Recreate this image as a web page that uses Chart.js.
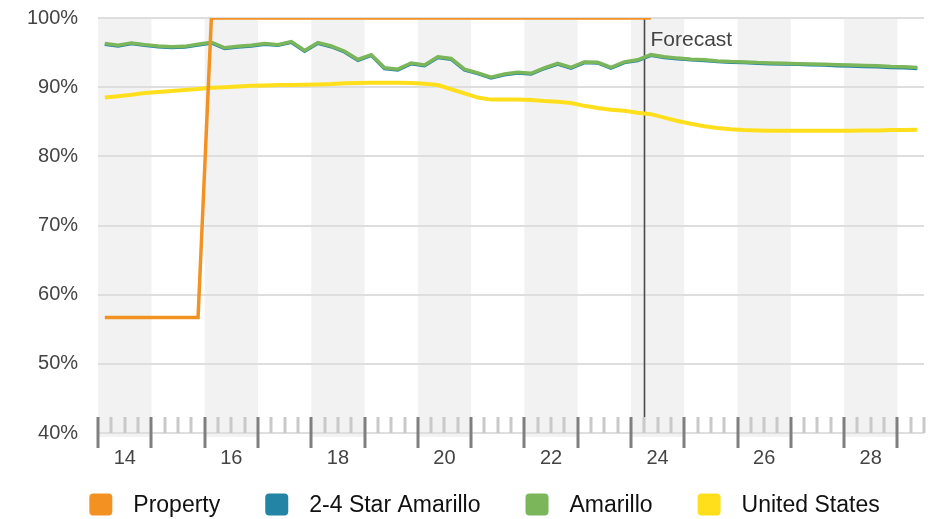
<!DOCTYPE html>
<html>
<head>
<meta charset="utf-8">
<script src="https://cdn.jsdelivr.net/npm/chart.js@4.4.1/dist/chart.umd.min.js"></script>
<style>
  html, body { margin: 0; padding: 0; background: #fff; }
  #wrap { width: 937px; height: 519px; position: relative; }
</style>
</head>
<body>
<div id="wrap"><canvas id="occupancyChart"></canvas></div>
<script>
// quarterly occupancy (%), first point is 2014 Q1, last is 2029 Q2
const firstYear = 2014
const lastYear = 2029.5
const forecastStart = 2024.25

const property = [
  56.7, 56.7, 56.7, 56.7, 56.7, 56.7, 56.7, 56.7,
  100, 100, 100, 100, 100, 100, 100, 100, 100, 100,
  100, 100, 100, 100, 100, 100, 100, 100, 100, 100,
  100, 100, 100, 100, 100, 100, 100, 100, 100, 100,
  100, 100, 100, 100
]
const starAmarillo = [
  96.2, 95.95, 96.3, 96.05, 95.85, 95.75, 95.8, 96.1, 96.4, 95.6,
  95.8, 95.95, 96.2, 96.05, 96.5, 95.2, 96.35, 95.85, 95.1, 93.9,
  94.6, 92.7, 92.5, 93.4, 93.1, 94.3, 94.05, 92.5, 91.95, 91.35,
  91.8, 92.05, 91.9, 92.7, 93.35, 92.75, 93.55, 93.5, 92.75, 93.55,
  93.85, 94.6, 94.3, 94.1, 93.95, 93.85, 93.7, 93.6, 93.55, 93.45,
  93.4, 93.35, 93.3, 93.25, 93.2, 93.1, 93.05, 93.0, 92.95, 92.85,
  92.8, 92.7
]
const amarillo = [
  96.3, 96.05, 96.4, 96.15, 95.95, 95.85, 95.9, 96.2, 96.5, 95.7,
  95.9, 96.05, 96.3, 96.15, 96.6, 95.3, 96.45, 95.95, 95.2, 94.0,
  94.7, 92.8, 92.6, 93.5, 93.2, 94.4, 94.15, 92.6, 92.05, 91.45,
  91.9, 92.15, 92.0, 92.8, 93.45, 92.85, 93.65, 93.6, 92.85, 93.65,
  93.95, 94.7, 94.4, 94.2, 94.05, 93.95, 93.8, 93.7, 93.65, 93.55,
  93.5, 93.45, 93.4, 93.35, 93.3, 93.25, 93.2, 93.15, 93.1, 93.0,
  92.95, 92.85
]
const unitedStates = [
  88.5, 88.7, 88.9, 89.15, 89.3, 89.45, 89.6, 89.75, 89.9, 90.0,
  90.1, 90.2, 90.25, 90.3, 90.3, 90.35, 90.4, 90.45, 90.55, 90.6,
  90.65, 90.65, 90.65, 90.6, 90.5, 90.3, 89.7, 89.1, 88.5, 88.2,
  88.2, 88.2, 88.15, 88.0, 87.9, 87.7, 87.3, 87.0, 86.75, 86.6,
  86.3, 86.1, 85.6, 85.1, 84.7, 84.35, 84.1, 83.9, 83.8, 83.75,
  83.7, 83.7, 83.7, 83.7, 83.7, 83.7, 83.7, 83.75, 83.75, 83.8,
  83.8, 83.85
]

const FONT = "'Liberation Sans', Arial, Helvetica, sans-serif"
Chart.defaults.font.family = FONT

// each value sits in the middle of its quarter
function toPoints(values) {
  return values.map((v, i) => ({ x: firstYear + (i + 0.5) / 4, y: v }))
}

// grey bands on even years, quarter tick marks and the forecast divider
const yearDecor = {
  id: 'yearDecor',
  beforeDraw(chart) {
    const { ctx, chartArea } = chart
    const x = chart.scales.x
    ctx.save()
    ctx.fillStyle = '#f2f2f2'
    for (let yr = firstYear; yr < lastYear; yr += 2) {
      const x0 = x.getPixelForValue(yr)
      const x1 = x.getPixelForValue(Math.min(yr + 1, lastYear))
      ctx.fillRect(x0, chartArea.top, x1 - x0, chartArea.bottom - chartArea.top + 4)
    }
    ctx.restore()
  },
  beforeDatasetsDraw(chart) {
    const { ctx, chartArea } = chart
    const x = chart.scales.x
    const bottom = chartArea.bottom
    ctx.save()
    ctx.lineWidth = 3
    for (let q = firstYear * 4; q <= lastYear * 4; q++) {
      const px = Math.round(x.getPixelForValue(q / 4))
      const major = q % 4 === 0
      ctx.strokeStyle = major ? '#7f7f7f' : '#c9c9c9'
      ctx.beginPath()
      ctx.moveTo(px, bottom - 16)
      ctx.lineTo(px, major ? bottom + 15 : bottom)
      ctx.stroke()
    }
    const fx = Math.round(x.getPixelForValue(forecastStart)) + 0.5
    ctx.strokeStyle = '#4a4a4a'
    ctx.lineWidth = 1.6
    ctx.beginPath()
    ctx.moveTo(fx, chartArea.top)
    ctx.lineTo(fx, bottom - 16)
    ctx.stroke()
    ctx.fillStyle = '#444'
    ctx.font = '21px ' + FONT
    ctx.textBaseline = 'middle'
    ctx.fillText('Forecast', fx + 6, chartArea.top + 22)
    ctx.restore()
  }
}

// legend row under the axis
const legendRow = {
  id: 'legendRow',
  afterDraw(chart) {
    const ctx = chart.ctx
    const box = 23, gap = 21, spacing = 45
    ctx.save()
    ctx.font = '23px ' + FONT
    const items = chart.data.datasets.map(ds => ({
      text: ds.label,
      color: ds.borderColor,
      w: box + gap + ctx.measureText(ds.label).width
    }))
    const total = items.reduce((s, it) => s + it.w, 0) + spacing * (items.length - 1)
    let left = chart.width / 2 + 16 - total / 2
    const cy = 504.5
    items.forEach(it => {
      ctx.fillStyle = it.color
      ctx.beginPath()
      ctx.roundRect(left, cy - 11, box, 22, 4)
      ctx.fill()
      ctx.fillStyle = '#111'
      ctx.textBaseline = 'middle'
      ctx.fillText(it.text, left + box + gap, cy + 1)
      left += it.w + spacing
    })
    ctx.restore()
  }
}

const ctx = document.getElementById('occupancyChart').getContext('2d')
const occupancyChart = new Chart(ctx, {
  type: 'line',
  data: {
    datasets: [
      { label: 'Property', data: toPoints(property), borderColor: '#f39223', borderWidth: 3.5, order: 0 },
      { label: '2-4 Star Amarillo', data: toPoints(starAmarillo), borderColor: '#2384a5', borderWidth: 3.5, order: 2 },
      { label: 'Amarillo', data: toPoints(amarillo), borderColor: '#7bb75a', borderWidth: 3.5, order: 1 },
      { label: 'United States', data: toPoints(unitedStates), borderColor: '#ffdf1c', borderWidth: 4, order: 3 }
    ]
  },
  options: {
    responsive: true,
    maintainAspectRatio: false,
    animation: false,
    layout: { padding: { left: 27, right: 9, top: 18, bottom: 36 } },
    elements: {
      point: { radius: 0, hoverRadius: 0 },
      line: { tension: 0, fill: false }
    },
    scales: {
      x: {
        type: 'linear',
        min: firstYear,
        max: lastYear,
        grid: { display: false, drawTicks: false },
        border: { display: false },
        ticks: {
          stepSize: 0.5,
          autoSkip: false,
          maxRotation: 0,
          padding: 13,
          color: '#444',
          font: { size: 20 },
          callback: v => (v % 1 === 0.5 && Math.floor(v) % 2 === 0) ? String(Math.floor(v)).slice(2) : ''
        }
      },
      y: {
        min: 40,
        max: 100,
        grid: { color: '#dedede', lineWidth: 2, drawTicks: true, tickLength: 20, tickColor: 'rgba(0,0,0,0)' },
        border: { display: false },
        ticks: {
          stepSize: 10,
          padding: 0,
          color: '#444',
          font: { size: 20 },
          callback: v => v + '%'
        }
      }
    },
    plugins: {
      legend: { display: false },
      tooltip: { enabled: false }
    }
  },
  plugins: [yearDecor, legendRow]
})
</script>
</body>
</html>
